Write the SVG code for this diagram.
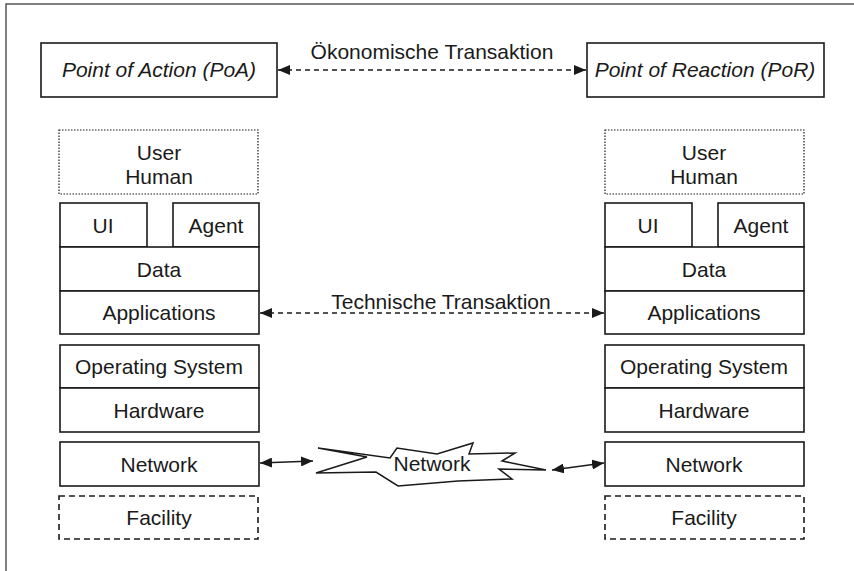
<svg xmlns="http://www.w3.org/2000/svg" width="854" height="571" viewBox="0 0 854 571">
<defs>
<style>
.box{fill:#fff;stroke:#1a1a1a;stroke-width:1.6}
.dot{fill:#fff;stroke:#1a1a1a;stroke-width:1.2;stroke-dasharray:1.5 1.5}
.dash{fill:#fff;stroke:#1a1a1a;stroke-width:1.6;stroke-dasharray:6 4}
.t{font-family:"Liberation Sans",Arial,sans-serif;font-size:21px;fill:#1a1a1a;text-anchor:middle}
.ti{font-style:italic}
.conn{stroke:#1a1a1a;stroke-width:1.5;fill:none}
.dsh{stroke-dasharray:5 4}
</style>
<marker id="ah" viewBox="0 0 12 10" refX="12" refY="5" markerWidth="12" markerHeight="10" markerUnits="userSpaceOnUse" orient="auto-start-reverse">
<path d="M0,0 L12,5 L0,10 Z" fill="#1a1a1a"/>
</marker>
</defs>
<rect width="854" height="571" fill="#fff"/>
<path d="M6,571 L6,4 L854,4" fill="none" stroke="#555" stroke-width="1.5"/>

<g id="poa"><rect class="box" x="41" y="43" width="236" height="54"/><text class="t ti" x="159" y="77">Point of Action (PoA)</text></g>
<g id="por"><rect class="box" x="587" y="43" width="237" height="54"/><text class="t ti" x="705" y="77">Point of Reaction (PoR)</text></g>

<g id="left-user"><rect class="dot" x="59" y="130" width="199" height="64"/><text class="t" x="159" y="160">User</text><text class="t" x="159" y="184">Human</text></g>
<g id="left-ui"><rect class="box" x="60" y="203" width="87" height="44"/><text class="t" x="103" y="233">UI</text></g>
<g id="left-agent"><rect class="box" x="173" y="203" width="86" height="44"/><text class="t" x="216" y="233">Agent</text></g>
<g id="left-data"><rect class="box" x="60" y="247" width="199" height="44"/><text class="t" x="159" y="277">Data</text></g>
<g id="left-apps"><rect class="box" x="60" y="291" width="199" height="43"/><text class="t" x="159" y="320">Applications</text></g>
<g id="left-os"><rect class="box" x="60" y="345" width="199" height="43"/><text class="t" x="159" y="374">Operating System</text></g>
<g id="left-hw"><rect class="box" x="60" y="388" width="199" height="44"/><text class="t" x="159" y="418">Hardware</text></g>
<g id="left-net"><rect class="box" x="60" y="442" width="199" height="44"/><text class="t" x="159" y="472">Network</text></g>
<g id="left-fac"><rect class="dash" x="59" y="496" width="199" height="43"/><text class="t" x="159" y="525">Facility</text></g>

<g id="right-user"><rect class="dot" x="605" y="130" width="199" height="64"/><text class="t" x="704" y="160">User</text><text class="t" x="704" y="184">Human</text></g>
<g id="right-ui"><rect class="box" x="605" y="203" width="87" height="44"/><text class="t" x="648" y="233">UI</text></g>
<g id="right-agent"><rect class="box" x="718" y="203" width="86" height="44"/><text class="t" x="761" y="233">Agent</text></g>
<g id="right-data"><rect class="box" x="605" y="247" width="199" height="44"/><text class="t" x="704" y="277">Data</text></g>
<g id="right-apps"><rect class="box" x="605" y="291" width="199" height="43"/><text class="t" x="704" y="320">Applications</text></g>
<g id="right-os"><rect class="box" x="605" y="345" width="199" height="43"/><text class="t" x="704" y="374">Operating System</text></g>
<g id="right-hw"><rect class="box" x="605" y="388" width="199" height="44"/><text class="t" x="704" y="418">Hardware</text></g>
<g id="right-net"><rect class="box" x="605" y="442" width="199" height="44"/><text class="t" x="704" y="472">Network</text></g>
<g id="right-fac"><rect class="dash" x="605" y="496" width="199" height="43"/><text class="t" x="704" y="525">Facility</text></g>

<g id="cloud">
<polygon points="318,448 367,457 316,473 376,472 398,486 458,481 512,479 499,469 546,470 502,461 515,453 469,454 473,443 437,454 397,448 390,458" fill="#fff" stroke="#1a1a1a" stroke-width="1.5" stroke-linejoin="miter"/>
<text class="t" x="432" y="471">Network</text>
</g>

<g id="connectors">
<line class="conn dsh" x1="278" y1="70" x2="586" y2="70" marker-start="url(#ah)" marker-end="url(#ah)"/>
<text class="t" x="432" y="59">Ökonomische Transaktion</text>
<line class="conn dsh" x1="260" y1="313" x2="604" y2="313" marker-start="url(#ah)" marker-end="url(#ah)"/>
<text class="t" x="441" y="309">Technische Transaktion</text>
<line class="conn" x1="260" y1="463" x2="313" y2="461" marker-start="url(#ah)" marker-end="url(#ah)"/>
<line class="conn" x1="552" y1="470" x2="604" y2="463" marker-start="url(#ah)" marker-end="url(#ah)"/>
</g>
</svg>
